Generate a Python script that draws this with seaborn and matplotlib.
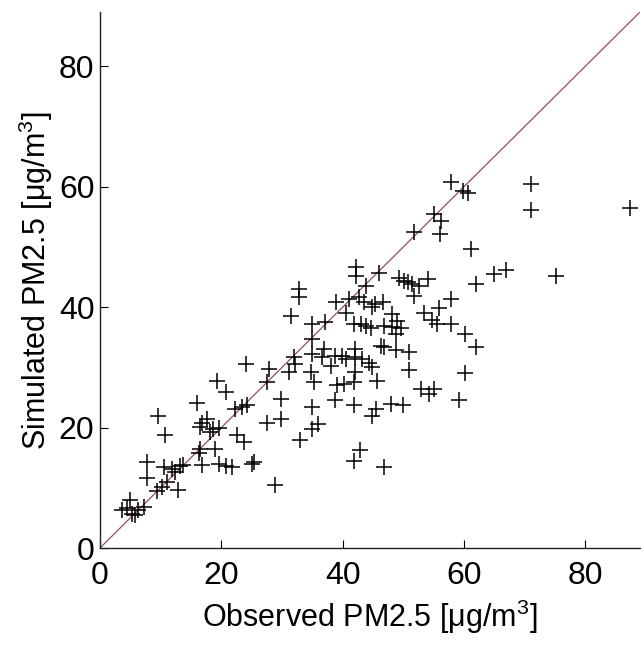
import matplotlib
matplotlib.use("Agg")
import matplotlib.pyplot as plt
import seaborn as sns
import pandas as pd

# observed / simulated PM2.5 pairs
observed = [
    3.6, 4.4, 4.9, 5.3, 5.8, 6.3, 7.2,
    7.7, 7.7, 9.6, 10.7, 9.4, 10.2, 11.0, 10.5, 11.8, 12.4, 13.2, 12.9, 13.7,
    16.0, 16.5, 16.8, 17.6, 18.2, 18.7, 19.6, 19.3, 20.7,
    16.5, 16.3, 19.0, 16.8, 19.6, 20.7, 21.8,
    22.3, 23.4, 24.2, 22.6, 23.7, 24.0, 25.1, 25.3,
    27.5, 27.8, 27.5, 28.9, 29.8, 29.8,
    31.1, 31.9, 32.2, 31.4, 32.8, 32.8, 32.9,
    34.7, 35.3, 35.0, 36.0, 35.0,
    35.0, 35.0, 36.9, 36.6, 34.9, 37.1, 38.0, 38.8, 39.9, 40.5, 39.1, 40.2, 38.8,
    38.9, 41.0, 42.7, 43.5, 40.5, 44.9, 45.4, 46.6,
    41.9, 43.0, 43.8, 44.7, 46.8, 48.2, 48.2, 49.0, 49.6, 48.8,
    42.2, 42.2, 43.8, 46.0,
    42.1, 42.1, 43.2, 44.3, 42.1, 41.8, 41.8, 44.9, 45.5, 45.7, 44.9,
    46.3, 46.8, 48.8, 50.9,
    42.9, 41.8, 46.8,
    47.9, 49.9,
    49.3, 50.1, 50.7, 51.5, 52.6, 54.0, 51.8,
    50.9, 52.9, 54.3, 55.1,
    51.8, 53.4, 55.9, 57.9, 54.8, 55.6, 57.8,
    55.1, 56.2, 56.0, 57.8, 59.8, 60.6,
    60.1, 60.1, 59.2, 62.0, 61.2, 62.0,
    65.0, 66.9, 71.1, 71.1, 75.1, 87.3,
]
simulated = [
    6.3, 6.6, 8.0, 5.6, 5.4, 6.3, 6.8,
    14.3, 11.6, 22.0, 18.8, 9.4, 10.1, 11.0, 13.5, 13.2, 12.7, 13.6, 9.6, 13.8,
    24.0, 20.1, 20.7, 21.5, 19.3, 19.8, 20.0, 27.8, 25.9,
    16.5, 15.7, 16.5, 13.8, 14.0, 13.6, 13.5,
    23.1, 23.4, 23.7, 18.7, 17.6, 30.6, 14.0, 14.2,
    27.5, 29.7, 20.7, 10.4, 24.8, 21.5,
    29.2, 31.7, 30.6, 38.6, 43.0, 41.6, 18.0,
    29.2, 27.5, 23.4, 20.6, 19.7,
    34.7, 32.2, 33.1, 31.7, 37.2, 37.5, 30.3, 31.9, 31.9, 31.4, 27.0, 27.3, 24.5,
    40.8, 41.3, 41.6, 40.8, 39.1, 40.0, 40.5, 40.8,
    37.2, 37.2, 36.9, 36.6, 36.9, 38.8, 36.7, 37.7, 36.6, 35.5,
    46.6, 45.2, 43.5, 45.7,
    33.0, 31.7, 31.4, 30.8, 29.2, 27.5, 23.7, 22.0, 23.0, 27.8, 30.0,
    33.6, 33.3, 32.8, 32.5,
    16.2, 14.4, 13.5,
    23.9, 23.7,
    44.9, 44.4, 44.1, 43.8, 43.5, 44.6, 41.9,
    29.5, 26.4, 25.6, 26.4,
    52.4, 39.1, 39.9, 41.4, 37.8, 37.2, 37.2,
    55.4, 54.3, 52.1, 60.7, 59.3, 59.0,
    35.5, 29.0, 24.5, 33.3, 49.6, 43.8,
    45.5, 46.1, 60.4, 56.1, 45.2, 56.5,
]
ticks = [0, 20, 40, 60, 80]
axis_max = 89

df = pd.DataFrame({"observed": observed, "simulated": simulated})

sns.set_style("white")
plt.rcParams["font.family"] = ["Liberation Sans", "DejaVu Sans"]
plt.rcParams["mathtext.fontset"] = "custom"
plt.rcParams["mathtext.rm"] = "Liberation Sans"
plt.rcParams["mathtext.it"] = "Liberation Sans"

fig = plt.figure(figsize=(6.44, 6.49), dpi=100)
ax = fig.add_axes([100 / 644, 1 - 548 / 649, 540 / 644, 536 / 649])

ax.axline((0, 0), slope=1, color="#a04a58", linewidth=0.9, zorder=1)
sns.scatterplot(data=df, x="observed", y="simulated", marker="+", s=140,
                color="black", linewidth=1.1, ax=ax, zorder=2)

ax.set_xlim(0, axis_max)
ax.set_ylim(0, axis_max)
ax.set_xticks(ticks)
ax.set_yticks(ticks)
ax.tick_params(bottom=True, left=True, direction="in", length=6, width=0.8,
               labelsize=23, colors="black")
ax.tick_params(axis="x", pad=9)
ax.tick_params(axis="y", pad=4)
for side in ["top", "right"]:
    ax.spines[side].set_visible(False)
for side in ["left", "bottom"]:
    ax.spines[side].set_color("#222222")
    ax.spines[side].set_linewidth(1.0)

ax.set_xlabel("Observed PM2.5 [μg/m$^3$]", fontsize=22, labelpad=5, color="black")
ax.set_ylabel("Simulated PM2.5 [μg/m$^3$]", fontsize=22, labelpad=3, color="black")

fig.savefig("out.png", dpi=100)
